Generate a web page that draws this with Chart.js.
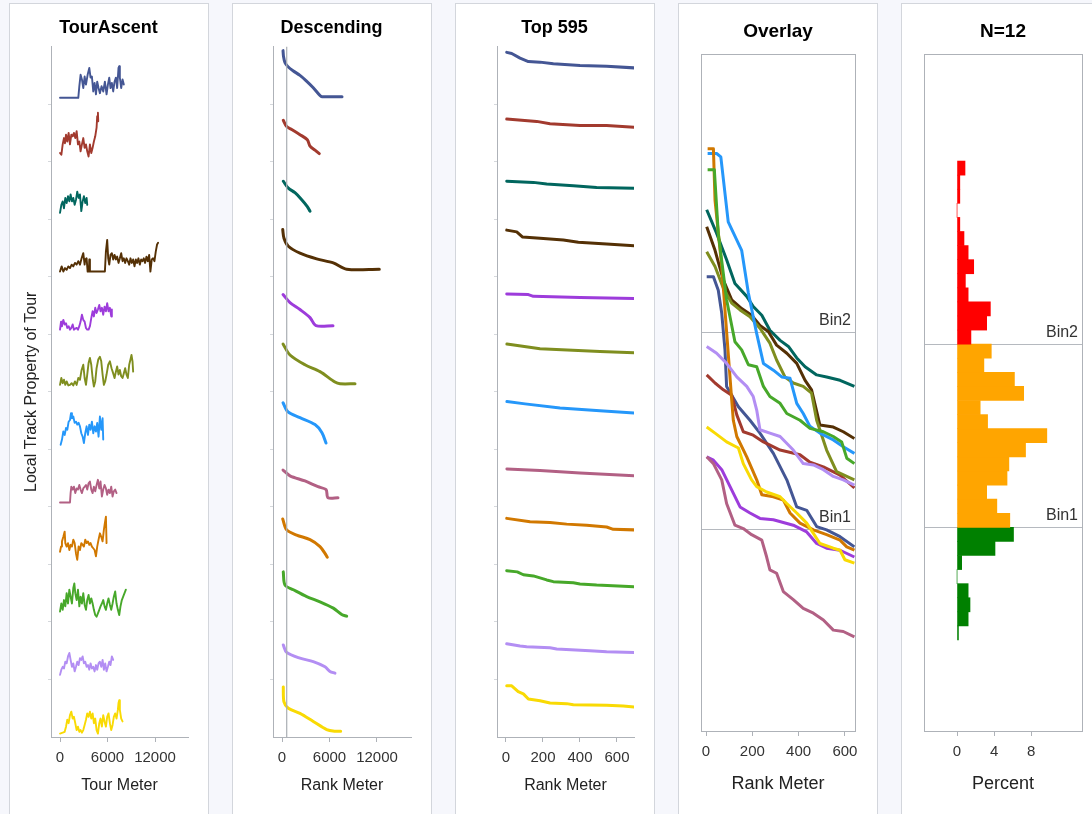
<!DOCTYPE html>
<html lang="en">
<head>
<meta charset="UTF-8">
<title>Tour profiles</title>
<script src="https://cdn.jsdelivr.net/npm/chart.js@4.4.1/dist/chart.umd.min.js"></script>
<style>
  body { margin: 0; width: 1092px; height: 814px; overflow: hidden; position: relative; background: #f6f7fc; }
  .panel { position: absolute; top: 3px; height: 840px; background: #fff; border: 1px solid #d3d6dc; box-sizing: border-box; }
  canvas { position: absolute; top: 0; }
</style>
</head>
<body>
<div class="panel" style="left:9px;width:200px"></div>
<div class="panel" style="left:232px;width:200px"></div>
<div class="panel" style="left:455px;width:200px"></div>
<div class="panel" style="left:678px;width:200px"></div>
<div class="panel" style="left:901px;width:200px"></div>
<canvas id="ascentChart" width="199" height="814" style="left:9px"></canvas>
<canvas id="descChart" width="199" height="814" style="left:232px"></canvas>
<canvas id="topChart" width="199" height="814" style="left:455px"></canvas>
<canvas id="overlayChart" width="199" height="814" style="left:678px"></canvas>
<canvas id="histChart" width="191" height="814" style="left:901px"></canvas>
<script>
// ---- data ----
const tourColors = ['#445694', '#a23a2e', '#01665e', '#543005', '#9d3cdb', '#7f8e1f',
                    '#2597fa', '#b26084', '#d17800', '#47a82a', '#b38ef3', '#f9da04'];

// TourAscent: [tour meter, local value] per tour
const ascent1 = [[0,1.1],[2310,1.1],[2440,3.1],[2600,5.1],[2770,4.3],[2940,2.8],[3110,4.8],[3280,3.4],[3490,5.1],[3700,6.3],[3860,4.6],[4030,4.8],[4200,2.2],[4370,3.7],[4540,1.7],[4700,3.9],[4870,2.8],[5040,1.9],[5250,3.1],[5460,2.2],[5670,3.9],[5880,1.7],[6050,3.4],[6220,4.6],[6380,2.8],[6550,3.7],[6720,2.2],[6890,3.9],[7060,4.6],[7220,2.8],[7390,6.3],[7480,6.6],[7560,4.6],[7730,2.8],[7900,4.3],[8060,3.4]];
const ascent2 = [[0,1.5],[170,1.2],[340,3.0],[500,4.1],[630,3.2],[760,4.7],[920,3.5],[1090,5.0],[1260,3.0],[1430,4.7],[1600,4.4],[1760,5.0],[1930,4.1],[2100,5.3],[2270,3.0],[2440,3.5],[2600,1.8],[2770,3.0],[2940,4.1],[3110,2.4],[3280,3.0],[3440,1.8],[3610,0.9],[3780,3.0],[3950,1.5],[4120,2.4],[4280,3.5],[4450,4.4],[4620,5.9],[4700,7.9],[4790,8.5],[4830,7.0]];
const ascent3 = [[0,1.1],[170,2.5],[340,3.1],[500,1.9],[670,3.7],[840,2.8],[1010,4.0],[1180,3.1],[1340,4.3],[1510,3.1],[1680,3.7],[1850,2.5],[2020,3.4],[2180,4.8],[2350,3.7],[2520,4.3],[2690,1.4],[2860,3.1],[3020,4.0],[3190,2.8],[3360,3.7],[3440,2.5]];
const ascent4 = [[0,0.9],[210,1.8],[420,0.9],[630,1.5],[840,1.2],[1050,1.8],[1260,1.5],[1470,2.1],[1680,1.8],[1890,2.4],[2100,2.1],[2310,2.7],[2520,2.1],[2730,3.2],[2940,4.1],[3110,2.1],[3190,3.0],[3360,3.2],[3490,0.9],[3650,0.9],[3700,3.0],[3780,0.9],[5670,0.9],[5800,4.4],[5960,6.4],[6090,3.2],[6220,2.1],[6380,3.8],[6550,4.1],[6720,3.0],[6890,3.8],[7060,3.0],[7220,3.5],[7390,2.4],[7560,3.2],[7730,4.1],[7900,2.7],[8060,3.2],[8230,2.4],[8400,3.2],[8570,2.7],[8740,2.1],[8900,3.2],[9070,2.4],[9240,3.0],[9410,1.8],[9580,3.0],[9740,2.4],[9910,3.2],[10080,2.1],[10250,3.0],[10420,2.7],[10580,3.2],[10750,2.4],[10920,3.5],[11090,2.7],[11260,3.8],[11420,0.9],[11590,3.0],[11760,3.2],[11930,2.7],[12100,4.4],[12260,5.6],[12390,5.9]];
const ascent5 = [[0,0.8],[130,2.2],[250,1.4],[420,2.5],[590,1.7],[760,1.9],[920,1.1],[1090,1.4],[1260,0.8],[1430,1.1],[1600,1.7],[1760,0.8],[1930,1.0],[2100,1.1],[2270,0.8],[2440,1.4],[2600,2.2],[2770,3.4],[2940,2.5],[3110,2.2],[3280,1.1],[3440,0.8],[3610,0.8],[3780,1.4],[3950,2.8],[4120,4.0],[4280,3.1],[4450,4.6],[4620,3.7],[4790,4.3],[4960,5.1],[5120,4.0],[5290,4.6],[5460,3.4],[5630,4.8],[5800,4.0],[5960,5.4],[6130,4.0],[6300,4.6],[6470,3.1],[6550,4.3]];
const ascent6 = [[0,1.2],[170,2.4],[340,1.5],[500,2.1],[670,1.2],[840,1.8],[1050,1.1],[1260,1.2],[1470,1.5],[1680,1.1],[1890,1.8],[2100,1.2],[2310,2.4],[2520,2.1],[2730,3.8],[2940,4.7],[3110,2.4],[3280,1.2],[3440,3.0],[3610,5.0],[3780,5.9],[3950,4.7],[4120,2.4],[4280,0.9],[4450,1.8],[4620,4.1],[4830,5.6],[5040,6.1],[5210,5.3],[5380,3.0],[5540,1.2],[5710,1.8],[5880,3.0],[6090,4.7],[6300,5.3],[6510,4.1],[6720,3.2],[6890,2.4],[7060,3.5],[7220,4.4],[7390,3.0],[7560,3.8],[7730,2.7],[7900,2.4],[8060,3.2],[8230,4.1],[8400,3.0],[8570,2.4],[8740,4.7],[8900,5.6],[9030,6.4],[9160,5.3],[9240,3.5]];
const ascent7 = [[80,0.8],[250,1.7],[420,3.1],[590,2.5],[760,3.7],[920,3.4],[1090,4.8],[1260,5.1],[1390,6.3],[1510,5.4],[1680,5.7],[1850,4.6],[2020,4.8],[2180,4.3],[2350,4.6],[2520,4.0],[2690,2.8],[2860,2.2],[3020,1.1],[3190,2.8],[3360,4.0],[3530,2.5],[3700,4.3],[3860,3.4],[4030,4.8],[4200,2.8],[4370,4.0],[4540,3.1],[4700,4.6],[4870,2.2],[5040,5.7],[5210,3.4],[5380,5.4],[5460,1.7]];
const ascent8 = [[0,0.75],[1260,0.75],[1340,2.4],[1430,3.5],[1600,3.0],[1760,3.5],[1930,2.4],[2100,3.2],[2270,3.0],[2440,3.8],[2600,3.0],[2770,2.4],[2940,3.2],[3110,3.5],[3280,3.8],[3440,3.0],[3610,4.1],[3780,4.4],[3950,3.0],[4120,2.4],[4280,3.5],[4450,2.7],[4620,3.8],[4790,4.7],[4960,3.2],[5120,4.4],[5290,1.8],[5460,3.0],[5630,3.8],[5800,3.2],[5960,2.1],[6130,3.0],[6300,2.4],[6470,3.5],[6640,1.8],[6800,2.7],[6970,3.0],[7140,2.4]];
const ascent9 = [[0,2.2],[130,3.1],[250,4.0],[420,4.8],[590,5.7],[670,3.7],[840,3.1],[1010,3.7],[1180,2.5],[1340,3.4],[1510,3.1],[1680,4.3],[1850,3.7],[2020,1.9],[2180,0.8],[2350,3.1],[2520,2.5],[2690,3.7],[2860,3.4],[3020,3.1],[3190,4.3],[3360,3.7],[3530,4.0],[3700,3.4],[3860,3.7],[4030,3.1],[4200,2.8],[4370,2.5],[4540,1.4],[4700,3.1],[4870,4.3],[5040,5.4],[5210,4.8],[5380,4.0],[5540,6.0],[5670,7.2],[5800,8.3],[5880,3.7]];
const ascent10 = [[0,1.8],[170,3.2],[340,2.1],[500,3.8],[670,2.7],[840,5.0],[1010,3.2],[1180,5.6],[1340,4.4],[1510,3.2],[1680,5.9],[1810,6.7],[1930,5.0],[2100,3.8],[2270,5.6],[2440,2.7],[2600,4.4],[2770,3.2],[2940,5.0],[3110,3.0],[3280,2.1],[3440,3.8],[3610,4.7],[3780,3.2],[3950,4.1],[4120,3.2],[4280,2.1],[4450,1.2],[4620,0.9],[4790,1.5],[4960,2.1],[5120,2.7],[5290,3.2],[5460,3.8],[5630,2.7],[5800,2.1],[5960,3.2],[6130,4.1],[6300,3.0],[6470,2.1],[6640,3.2],[6800,4.4],[6970,5.3],[7140,3.2],[7310,2.1],[7480,1.2],[7640,2.7],[7810,3.8],[7980,4.4],[8150,5.0],[8320,5.6]];
const ascent11 = [[0,0.8],[170,1.7],[340,2.2],[500,1.9],[670,3.1],[840,2.8],[1010,4.0],[1180,4.6],[1340,3.4],[1510,2.2],[1680,2.8],[1850,1.4],[2020,2.2],[2180,3.1],[2350,2.5],[2520,3.7],[2690,3.4],[2860,4.0],[3020,2.8],[3190,3.1],[3360,2.2],[3530,2.5],[3700,1.7],[3860,2.8],[4030,1.9],[4200,2.2],[4370,1.4],[4540,2.5],[4700,1.7],[4870,2.8],[5040,3.1],[5210,2.2],[5380,3.4],[5540,1.7],[5710,2.8],[5880,1.4],[6050,2.2],[6220,3.1],[6380,2.5],[6550,4.0],[6720,3.4]];
const ascent12 = [[0,0.6],[340,0.75],[590,0.9],[760,1.8],[920,3.0],[1090,2.4],[1260,3.8],[1430,4.4],[1600,3.2],[1760,3.5],[1930,2.4],[2100,1.2],[2270,1.8],[2440,0.9],[2600,1.2],[2770,0.75],[2940,1.2],[3110,2.1],[3280,3.0],[3440,4.1],[3610,3.5],[3780,4.4],[3950,3.2],[4120,4.1],[4280,2.4],[4450,3.2],[4620,1.2],[4790,0.6],[4960,2.4],[5120,3.2],[5290,1.8],[5460,3.8],[5630,2.7],[5800,1.8],[5960,3.5],[6130,4.1],[6300,2.4],[6470,1.2],[6640,2.1],[6800,3.5],[6970,4.1],[7140,3.2],[7310,4.7],[7390,5.9],[7480,6.4],[7560,4.7],[7730,3.2],[7900,2.7]];

// Descending: [rank meter, value]
const desc1 = [[130,9.3],[190,8.3],[380,7.2],[760,6.5],[1390,5.8],[2270,5.0],[3030,4.1],[3920,2.9],[4800,1.5],[5050,1.3],[7580,1.3]];
const desc2 = [[160,7.2],[590,6.1],[1230,5.6],[2270,4.7],[3200,3.8],[3540,2.7],[4170,2.0],[4710,1.4]];
const desc3 = [[160,6.6],[800,5.4],[1640,4.6],[2490,3.4],[3200,2.2],[3540,1.4]];
const desc4 = [[90,8.2],[250,6.7],[800,5.3],[2270,4.1],[4380,3.1],[6480,2.4],[8170,1.3],[12290,1.3]];
const desc5 = [[130,6.9],[1010,5.5],[2270,4.3],[3540,2.9],[4290,1.5],[6440,1.5]];
const desc6 = [[130,8.3],[1010,6.4],[2900,4.7],[4800,3.5],[6690,1.7],[7330,1.4],[9220,1.4]];
const desc7 = [[130,8.1],[760,6.5],[2270,5.5],[4170,4.3],[5050,2.9],[5560,1.1]];
const desc8 = [[130,6.4],[1010,5.4],[2900,4.5],[4550,3.5],[5560,3.0],[5810,1.6],[7070,1.6]];
const desc9 = [[90,7.9],[590,6.0],[1850,5.1],[3540,4.3],[4800,3.1],[5430,1.9],[5720,1.25]];
const desc10 = [[160,8.7],[380,6.4],[1430,5.6],[3120,4.4],[4800,3.5],[6480,2.4],[7540,1.3],[8170,1.0]];
const desc11 = [[160,6.0],[590,4.7],[2270,3.7],[3950,3.1],[5430,2.2],[6060,1.4],[6690,1.1]];
const desc12 = [[160,8.7],[250,6.1],[800,5.0],[2270,4.1],[3950,2.7],[5640,1.3],[6690,1.0],[7410,1.0]];
const topCut = 595;

// Top 595: [rank meter, value]
const top1 = [[4,9.0],[31,8.8],[76,8.0],[121,7.4],[184,7.3],[256,7.0],[400,6.7],[544,6.6],[693,6.3]];
const top2 = [[4,7.4],[166,7.0],[238,6.6],[400,6.3],[544,6.3],[693,6.0]];
const top3 = [[4,6.6],[148,6.4],[220,6.1],[364,5.8],[490,5.5],[693,5.4]];
const top4 = [[4,8.1],[58,7.8],[90,6.9],[184,6.7],[310,6.4],[391,6.0],[544,5.7],[693,5.4]];
const top5 = [[4,7.0],[121,6.9],[148,6.6],[400,6.4],[693,6.2]];
const top6 = [[5,8.3],[184,7.5],[508,7.0],[693,6.8]];
const top7 = [[5,8.3],[103,7.9],[292,7.2],[508,6.7],[693,6.3]];
const top8 = [[5,6.6],[184,6.3],[400,5.9],[693,5.4]];
const top9 = [[4,8.0],[130,7.4],[238,7.3],[328,7.0],[436,6.8],[544,6.5],[580,6.1],[693,6.0]];
const top10 = [[4,8.9],[61,8.7],[94,8.2],[148,8.0],[220,7.3],[256,7.0],[364,6.8],[400,6.6],[490,6.4],[693,6.1]];
const top11 = [[4,6.2],[76,5.8],[112,5.7],[238,5.5],[274,5.3],[454,5.0],[544,4.8],[693,4.7]];
const top12 = [[4,8.9],[31,8.9],[66,7.9],[94,7.5],[121,6.6],[184,6.3],[238,5.9],[328,5.8],[364,5.6],[544,5.5],[634,5.4],[693,5.2]];

// Overlay: [rank meter, value] on a common scale
const over1 = [[3,67.1],[32,67.1],[53,65.1],[68,61.7],[82,56.3],[89,50.9],[140,47.9],[190,45.9],[233,44.0],[291,41.0],[349,37.1],[392,33.1],[435,32.6],[478,30.2],[521,29.7],[579,28.7],[641,27.2]];
const over2 = [[3,52.6],[39,51.4],[75,50.4],[111,49.6],[133,46.7],[161,44.2],[204,43.7],[248,42.7],[320,41.5],[406,40.8],[449,39.7],[507,39.0],[579,37.8],[641,35.9]];
const over3 = [[3,77.0],[46,73.5],[89,69.6],[125,66.1],[176,64.2],[204,62.7],[241,61.4],[276,59.2],[320,57.7],[356,56.8],[392,55.1],[428,53.8],[478,52.6],[521,52.3],[579,51.8],[641,50.9]];
const over4 = [[3,74.5],[39,71.0],[75,66.6],[111,63.7],[154,62.4],[197,61.4],[233,59.9],[269,59.0],[305,57.0],[349,55.8],[392,54.3],[428,51.8],[456,50.4],[492,45.2],[550,44.9],[593,44.2],[641,43.2]];
const over5 = [[3,40.5],[32,40.0],[68,38.6],[104,36.1],[147,33.1],[190,32.2],[233,31.4],[291,31.2],[377,30.4],[435,29.4],[478,27.7],[521,27.0],[579,26.7],[641,25.7]];
const over6 = [[3,70.8],[39,68.6],[75,65.4],[111,63.2],[147,62.2],[190,61.2],[233,59.5],[276,57.3],[305,54.8],[341,52.3],[377,51.4],[420,50.9],[456,49.9],[478,45.9],[521,41.5],[564,38.3],[608,37.6],[641,37.1]];
const over7 = [[7,85.3],[46,85.3],[64,84.8],[96,75.2],[154,71.0],[183,64.7],[219,58.7],[248,54.3],[291,53.3],[327,52.3],[363,52.1],[392,48.4],[420,46.9],[449,45.0],[492,44.0],[550,43.0],[593,42.0],[641,41.0]];
const over8 = [[3,40.5],[32,39.5],[68,37.1],[89,33.6],[125,30.4],[161,29.9],[197,29.0],[241,28.2],[262,25.7],[276,23.8],[305,23.3],[334,20.6],[377,19.4],[420,18.1],[464,17.4],[507,16.4],[550,14.9],[593,14.7],[641,13.9]];
const over9 = [[7,86.0],[32,86.0],[39,78.4],[68,68.6],[111,48.9],[118,45.9],[133,43.5],[176,40.5],[219,37.1],[241,34.9],[291,34.6],[334,34.1],[363,32.2],[406,30.7],[464,29.7],[521,29.0],[579,28.2],[608,27.2],[641,26.7]];
const over10 = [[7,82.9],[36,82.9],[53,73.5],[89,63.7],[125,57.5],[154,56.3],[183,54.1],[219,53.8],[248,50.9],[276,49.4],[320,48.4],[349,46.9],[406,45.9],[449,44.7],[507,44.2],[550,43.5],[586,42.7],[608,40.3],[641,39.5]];
const over11 = [[3,56.8],[46,55.8],[89,54.3],[133,52.3],[176,50.9],[204,49.4],[219,47.4],[233,44.5],[276,44.0],[320,43.5],[377,41.5],[420,39.5],[464,39.3],[507,38.6],[550,37.6],[593,37.1],[641,36.3]];
const over12 = [[3,44.9],[39,44.0],[89,42.7],[140,41.8],[161,39.5],[197,37.1],[219,36.1],[262,35.3],[320,34.6],[349,33.6],[392,32.2],[435,30.7],[464,29.2],[492,27.7],[550,27.0],[579,26.7],[600,25.3],[641,24.8]];
const overlayBins = [29.7, 58.8];
const binNames = ['Bin1', 'Bin2'];

// Histogram percent per bin, bottom to top
const greenPct = [0.15, 1.2, 1.4, 1.2, 0, 0.5, 4.1, 6.1];
const orangePct = [5.7, 4.3, 3.2, 5.4, 5.6, 7.4, 9.7, 3.3, 2.5, 7.2, 6.2, 2.9, 3.7];
const redPct = [1.5, 3.2, 3.6, 1.2, 0.9, 1.8, 1.2, 0.75, 0.3, 0, 0.3, 0.3, 0.86];

const tourTicks = [0, 6000, 12000];
const rankTicks = [0, 200, 400, 600];
const pctTicks = [0, 4, 8];

// ---- helpers ----
Chart.defaults.font.family = 'Arial, "Liberation Sans", sans-serif';
Chart.defaults.color = '#333';
const axisGrey = '#aeb2b8';

const ascentRows = [ascent1, ascent2, ascent3, ascent4, ascent5, ascent6, ascent7, ascent8, ascent9, ascent10, ascent11, ascent12];
const descRows = [desc1, desc2, desc3, desc4, desc5, desc6, desc7, desc8, desc9, desc10, desc11, desc12];
const topRows = [top1, top2, top3, top4, top5, top6, top7, top8, top9, top10, top11, top12];
const overRows = [over1, over2, over3, over4, over5, over6, over7, over8, over9, over10, over11, over12];

function fixWidth(w) { return s => { s.width = w; }; }
function fixHeight(h) { return s => { s.height = h; }; }
function useTicks(values) { return s => { s.ticks = values.map(v => ({value: v})); }; }

function bottomAxis(min, max, tickValues, label, titleSize, height) {
  return {
    type: 'linear', position: 'bottom', min: min, max: max,
    afterBuildTicks: useTicks(tickValues),
    afterFit: fixHeight(height),
    ticks: {padding: 7, font: {size: 15}, color: '#333', maxRotation: 0, callback: v => String(v)},
    grid: {drawOnChartArea: false, tickLength: 5, color: axisGrey},
    border: {color: axisGrey},
    title: {display: true, text: label, font: {size: titleSize}, color: '#222', padding: {top: 0, bottom: 19}}
  };
}

// one stacked y axis per tour, first tour on top
function rowScales(width) {
  const scales = {};
  tourColors.forEach((c, i) => {
    scales['r' + i] = {
      type: 'linear', position: 'left', stack: 'rows', stackWeight: 1, weight: 12 - i,
      min: 0, max: 10,
      afterBuildTicks: useTicks(i < 11 ? [0] : []),
      ticks: {display: false},
      grid: {drawOnChartArea: false, tickLength: 3, color: '#d5d8dc'},
      border: {color: axisGrey},
      afterFit: fixWidth(width)
    };
  });
  // empty space right of the plot
  scales.padRight = {
    type: 'linear', position: 'right',
    ticks: {display: false}, grid: {display: false}, border: {display: false},
    afterFit: fixWidth(20)
  };
  return scales;
}

function rowDatasets(rows, width, tension) {
  return rows.map((d, i) => ({
    data: d, xAxisID: 'x', yAxisID: 'r' + i, borderColor: tourColors[i], borderWidth: width,
    pointRadius: 0, tension: tension, borderJoinStyle: 'round', borderCapStyle: 'round'
  }));
}

function chartTitle(text, size, top, bottom) {
  return {display: true, text: text, color: '#000', font: {size: size, weight: 'bold'}, padding: {top: top, bottom: bottom}};
}

const common = {
  responsive: false, animation: false, events: []
};

const binLabels = {
  id: 'binLabels',
  afterDatasetsDraw(chart, args, opts) {
    const ys = chart.scales.y;
    const ctx = chart.ctx;
    ctx.save();
    ctx.font = '16px Arial, "Liberation Sans", sans-serif';
    ctx.fillStyle = '#333';
    ctx.textAlign = 'right';
    ctx.textBaseline = 'bottom';
    opts.values.forEach((v, i) => {
      ctx.fillText(opts.names[i], chart.chartArea.right - 4, ys.getPixelForValue(v) - 4);
    });
    ctx.restore();
  }
};

// ---- TourAscent ----
const ascentScales = rowScales(1);
ascentScales.yTitle = {
  type: 'linear', position: 'left', weight: 30,
  ticks: {display: false}, grid: {display: false}, border: {display: false},
  title: {display: true, text: 'Local Track Property of Tour', font: {size: 16}, color: '#222', padding: {top: 13, bottom: 0}},
  afterFit: fixWidth(41)
};
ascentScales.x = bottomAxis(-1137, 16168, tourTicks, 'Tour Meter', 16, 77);

new Chart(document.getElementById('ascentChart'), {
  type: 'line',
  data: {datasets: rowDatasets(ascentRows, 1.9, 0)},
  options: Object.assign({}, common, {
    plugins: {legend: {display: false}, tooltip: {enabled: false}, title: chartTitle('TourAscent', 18, 17, 8)},
    scales: ascentScales
  })
});

// ---- Descending ----
const descScales = rowScales(41);
descScales.yAll = {type: 'linear', display: false, min: 0, max: 1};
descScales.x = bottomAxis(-1137, 16295, tourTicks, 'Rank Meter', 16, 77);
const descSets = rowDatasets(descRows, 3, 0.3);
descSets.unshift({
  data: [[topCut, 0], [topCut, 1]], xAxisID: 'x', yAxisID: 'yAll',
  borderColor: '#a9adb3', borderWidth: 1.2, pointRadius: 0
});

new Chart(document.getElementById('descChart'), {
  type: 'line',
  data: {datasets: descSets},
  options: Object.assign({}, common, {
    plugins: {legend: {display: false}, tooltip: {enabled: false}, title: chartTitle('Descending', 18, 17, 8)},
    scales: descScales
  })
});

// ---- Top 595 ----
const topScales = rowScales(42);
topScales.x = bottomAxis(-48.6, 692, rankTicks, 'Rank Meter', 16, 77);

new Chart(document.getElementById('topChart'), {
  type: 'line',
  data: {datasets: rowDatasets(topRows, 3, 0)},
  options: Object.assign({}, common, {
    plugins: {legend: {display: false}, tooltip: {enabled: false}, title: chartTitle('Top 595', 18, 17, 8)},
    scales: topScales
  })
});

// ---- frame axes for the boxed panels ----
function frameScales() {
  return {
    xTop: {type: 'linear', position: 'top', ticks: {display: false}, grid: {display: false}, border: {color: axisGrey}, afterFit: fixHeight(0)},
    yRight: {type: 'linear', position: 'right', ticks: {display: false}, grid: {display: false}, border: {color: axisGrey}, afterFit: fixWidth(0)}
  };
}

// ---- Overlay ----
const overScales = frameScales();
overScales.x = bottomAxis(-21.6, 643.6, rankTicks, 'Rank Meter', 18, 83);
overScales.y = {
  type: 'linear', position: 'left', min: 0, max: 100,
  afterBuildTicks: useTicks(overlayBins),
  ticks: {display: false},
  grid: {color: '#b5b9bf', drawTicks: false, tickLength: 0},
  border: {color: axisGrey},
  afterFit: fixWidth(0)
};

new Chart(document.getElementById('overlayChart'), {
  type: 'line',
  data: {
    datasets: overRows.map((d, i) => ({
      data: d, xAxisID: 'x', yAxisID: 'y', order: overRows.length - i,
      borderColor: tourColors[i], borderWidth: 3, pointRadius: 0, tension: 0,
      borderJoinStyle: 'round'
    }))
  },
  options: Object.assign({}, common, {
    layout: {padding: {left: 23, right: 22, top: 0, bottom: 0}},
    plugins: {
      legend: {display: false}, tooltip: {enabled: false},
      title: chartTitle('Overlay', 19, 20.6, 10.6),
      binLabels: {values: overlayBins, names: binNames}
    },
    scales: overScales
  }),
  plugins: [binLabels]
});

// ---- N=12 histogram ----
const orangeStart = greenPct.length;
const redStart = orangeStart + orangePct.length;
const histValues = greenPct.concat(orangePct, redPct);
const histColors = histValues.map((v, i) => i < orangeStart ? '#008000' : (i < redStart ? '#ffa500' : '#ff0000'));

const histScales = frameScales();
histScales.x = bottomAxis(-3.57, 13.5, pctTicks, 'Percent', 18, 83);
histScales.y = {
  type: 'linear', position: 'left', min: -6.46, max: 41.6, offset: false,
  afterBuildTicks: useTicks([orangeStart, redStart]),
  ticks: {display: false},
  grid: {color: '#b5b9bf', drawTicks: false, tickLength: 0, offset: false},
  border: {color: axisGrey},
  afterFit: fixWidth(0)
};

new Chart(document.getElementById('histChart'), {
  type: 'bar',
  data: {
    datasets: [{
      data: histValues.map((v, i) => ({x: v, y: i + 0.5})),
      xAxisID: 'x', yAxisID: 'y',
      backgroundColor: histColors,
      borderWidth: 0,
      barPercentage: 1,
      categoryPercentage: 1
    }]
  },
  options: Object.assign({}, common, {
    indexAxis: 'y',
    layout: {padding: {left: 23, right: 10, top: 0, bottom: 0}},
    plugins: {
      legend: {display: false}, tooltip: {enabled: false},
      title: chartTitle('N=12', 19, 20.6, 10.6),
      binLabels: {values: [orangeStart, redStart], names: binNames}
    },
    scales: histScales
  }),
  plugins: [binLabels]
});
</script>
</body>
</html>
